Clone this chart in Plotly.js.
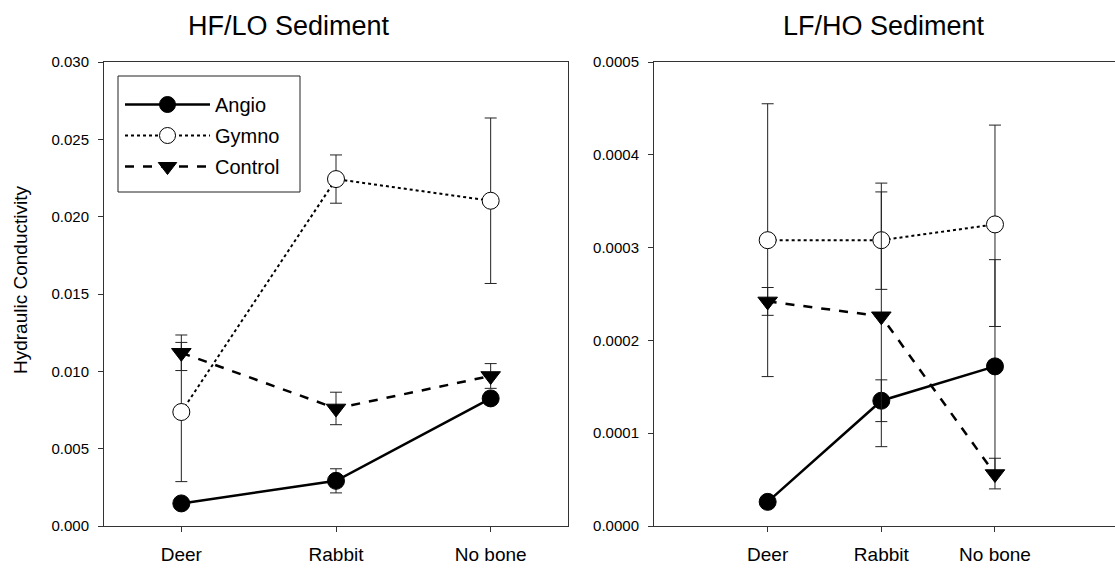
<!DOCTYPE html>
<html>
<head>
<meta charset="utf-8">
<script src="https://cdn.plot.ly/plotly-3.0.1.min.js"></script>
<style>html,body{margin:0;padding:0;background:#fff;}#chart{width:1115px;height:568px;}</style>
</head>
<body>
<div id="chart"></div>
<script>
const categories = ["Deer", "Rabbit", "No bone"];
const catPos = [1, 2, 3];

// HF/LO Sediment
const hfAngio = [0.00146, 0.00292, 0.00825];
const hfAngioErr = [0.0003, 0.00078, 0.0004];
const hfGymno = [0.00737, 0.02243, 0.02103];
const hfGymnoErr = [0.0045, 0.00156, 0.00535];
const hfControl = [0.0112, 0.0076, 0.0097];
const hfControlErr = [0.00115, 0.00105, 0.0008];

// LF/HO Sediment
const lfAngio = [0.000026, 0.000135, 0.000172];
const lfAngioErrPlus = [0.000005, 0.0000225, 0.000115];
const lfAngioErrMinus = [0.000005, 0.0000225, 0.000115];
const lfGymno = [0.000308, 0.000308, 0.000325];
const lfGymnoErrPlus = [0.000147, 0.0000615, 0.000107];
const lfGymnoErrMinus = [0.000147, 0.000053, 0.000110];
const lfControl = [0.000242, 0.000226, 0.000056];
const lfControlErrPlus = [0.000015, 0.000134, 0.000017];
const lfControlErrMinus = [0.000015, 0.0001405, 0.000016];

const FONT = "Liberation Sans, Arial, sans-serif";
const errStyle = {color: "#222", thickness: 1, width: 6};

function series(name, y, ep, em, style, xa, ya, show) {
  return {
    type: "scatter", mode: "lines+markers", name: name, legendgroup: name,
    x: catPos, y: y, xaxis: xa, yaxis: ya, showlegend: show,
    line: style.line, marker: style.marker,
    error_y: Object.assign({type: "data", array: ep, arrayminus: em, symmetric: false, visible: true}, errStyle)
  };
}
const sAngio = {line: {color: "#000", width: 2.5, dash: "solid"}, marker: {symbol: "circle", size: 17, color: "#000", line: {color: "#000", width: 1}}};
const sGymno = {line: {color: "#000", width: 2, dash: "dot"}, marker: {symbol: "circle", size: 17, color: "#fff", line: {color: "#000", width: 1}}};
const sControl = {line: {color: "#000", width: 2.5, dash: "dash"}, marker: {symbol: "triangle-down", size: 17, color: "#000", line: {color: "#000", width: 1}}};

const data = [
  series("Angio", hfAngio, hfAngioErr, hfAngioErr, sAngio, "x", "y", true),
  series("Gymno", hfGymno, hfGymnoErr, hfGymnoErr, sGymno, "x", "y", true),
  series("Control", hfControl, hfControlErr, hfControlErr, sControl, "x", "y", true),
  series("Angio", lfAngio, lfAngioErrPlus, lfAngioErrMinus, sAngio, "x2", "y2", false),
  series("Gymno", lfGymno, lfGymnoErrPlus, lfGymnoErrMinus, sGymno, "x2", "y2", false),
  series("Control", lfControl, lfControlErrPlus, lfControlErrMinus, sControl, "x2", "y2", false)
];

const axCommon = {showgrid: false, zeroline: false, showline: true, linecolor: "#333", linewidth: 1,
  ticks: "outside", ticklen: 5, tickcolor: "#333", tickfont: {family: FONT, size: 15, color: "#000"}};
const xTickFont = {family: FONT, size: 19, color: "#000"};

// paper y: 0 at 526px, 1 at 62px
const PY = px => (526 - px) / 464;
const PX = px => px / 1115;

const layout = {
  width: 1115, height: 568,
  margin: {l: 0, r: 0, t: 62, b: 42},
  paper_bgcolor: "#fff", plot_bgcolor: "#fff",
  font: {family: FONT, color: "#000"},
  xaxis: Object.assign({}, axCommon, {domain: [104/1115, 568/1115], range: [0.5, 3.5], tickvals: catPos, ticktext: categories, mirror: true, tickfont: xTickFont, ticklabelstandoff: 6}),
  yaxis: Object.assign({}, axCommon, {anchor: "x", range: [0, 0.030], dtick: 0.005, tickformat: ".3f", mirror: true, ticklabelstandoff: 6}),
  xaxis2: Object.assign({}, axCommon, {domain: [654/1115, 1], range: [0, 4.056], tickvals: catPos, ticktext: categories, anchor: "y2", mirror: true, tickfont: xTickFont, ticklabelstandoff: 6}),
  yaxis2: Object.assign({}, axCommon, {anchor: "x2", range: [0, 0.0005], dtick: 0.0001, tickformat: ".4f", mirror: false, ticklabelstandoff: 6}),
  showlegend: true,
  legend: {x: PX(120), y: PY(85), xanchor: "left", yanchor: "top", bgcolor: "rgba(0,0,0,0)", borderwidth: 0,
    font: {family: FONT, size: 20, color: "#000"}, itemwidth: 85, tracegroupgap: 2, traceorder: "grouped"},
  shapes: [
    {type: "rect", xref: "paper", yref: "paper", x0: PX(118), x1: PX(300), y0: PY(192), y1: PY(76), layer: "below",
     line: {color: "#222", width: 1}, fillcolor: "#fff"}
  ],
  annotations: [
    {text: "HF/LO Sediment", xref: "paper", yref: "paper", x: PX(289), y: 1, yshift: 36, xanchor: "center", yanchor: "middle", showarrow: false, font: {family: FONT, size: 27, color: "#000"}},
    {text: "LF/HO Sediment", xref: "paper", yref: "paper", x: PX(884), y: 1, yshift: 36, xanchor: "center", yanchor: "middle", showarrow: false, font: {family: FONT, size: 27, color: "#000"}},
    {text: "Hydraulic Conductivity", xref: "paper", yref: "paper", x: PX(20), y: PY(280), xanchor: "center", yanchor: "middle", textangle: -90, showarrow: false, font: {family: FONT, size: 19, color: "#000"}}
  ]
};

Plotly.newPlot("chart", data, layout, {displayModeBar: false, staticPlot: true});
</script>
</body>
</html>
